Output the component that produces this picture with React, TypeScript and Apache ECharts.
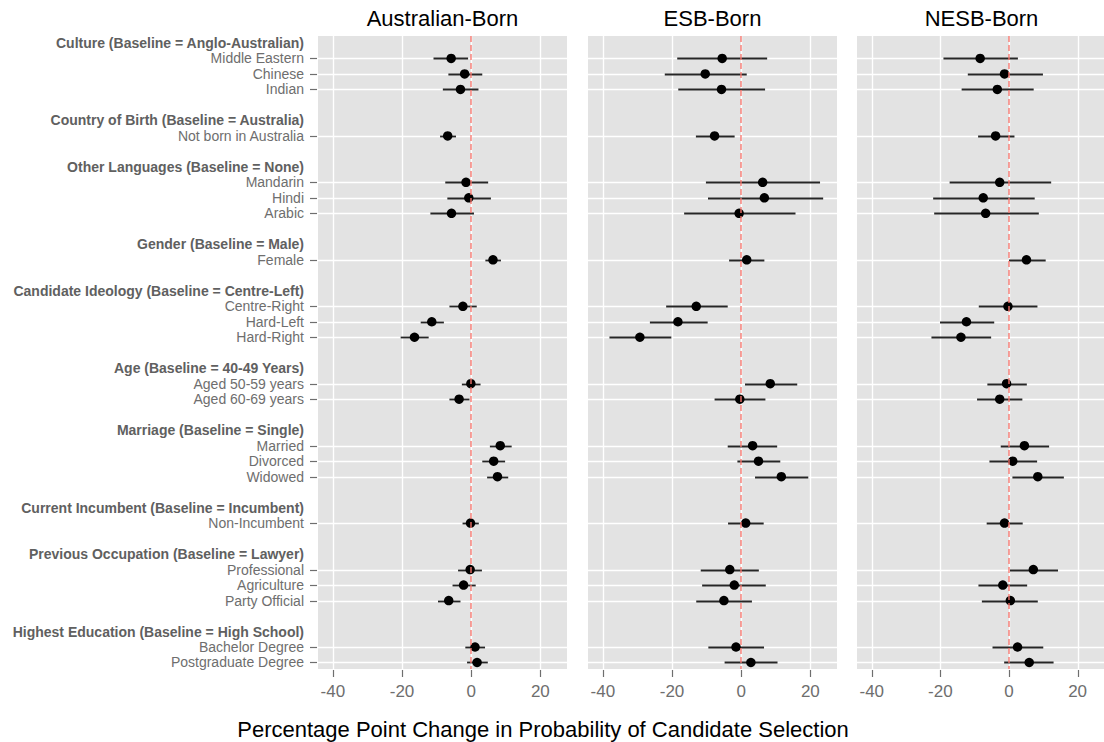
import React, { useEffect, useRef } from "react";
import * as echarts from "echarts";

const panelTitles = ["Australian-Born", "ESB-Born", "NESB-Born"];
const xTitle = "Percentage Point Change in Probability of Candidate Selection";
const xTicks = [-40, -20, 0, 20];

const headers = [
  "Culture (Baseline = Anglo-Australian)",
  "Country of Birth (Baseline = Australia)",
  "Other Languages (Baseline = None)",
  "Gender (Baseline = Male)",
  "Candidate Ideology (Baseline = Centre-Left)",
  "Age (Baseline = 40-49 Years)",
  "Marriage (Baseline = Single)",
  "Current Incumbent (Baseline = Incumbent)",
  "Previous Occupation (Baseline = Lawyer)",
  "Highest Education (Baseline = High School)",
];

const groupItems = [
  ["Middle Eastern", "Chinese", "Indian"],
  ["Not born in Australia"],
  ["Mandarin", "Hindi", "Arabic"],
  ["Female"],
  ["Centre-Right", "Hard-Left", "Hard-Right"],
  ["Aged 50-59 years", "Aged 60-69 years"],
  ["Married", "Divorced", "Widowed"],
  ["Non-Incumbent"],
  ["Professional", "Agriculture", "Party Official"],
  ["Bachelor Degree", "Postgraduate Degree"],
];

// Australian-Born
const ausEst = [-5.8, -1.9, -3.1, -6.8, -1.5, -0.7, -5.7, 6.3, -2.4, -11.4, -16.4, -0.1, -3.5, 8.4, 6.5, 7.6, -0.2, -0.3, -2.2, -6.5, 1.1, 1.7];
const ausLo = [-10.9, -6.6, -8.2, -9.0, -7.5, -6.9, -11.8, 4.1, -6.3, -14.6, -20.4, -2.7, -6.3, 5.4, 3.2, 4.6, -2.5, -3.8, -5.4, -9.6, -1.7, -1.2];
const ausHi = [-0.9, 3.2, 2.1, -4.4, 4.9, 5.7, 0.8, 8.6, 1.6, -7.9, -12.3, 2.7, -0.5, 11.7, 9.8, 10.7, 2.2, 3.1, 1.3, -3.1, 4.0, 4.8];

// ESB-Born
const esbEst = [-5.5, -10.4, -5.7, -7.7, 6.2, 6.7, -0.6, 1.6, -13.0, -18.3, -29.3, 8.4, -0.4, 3.3, 5.0, 11.6, 1.3, -3.3, -2.0, -5.0, -1.5, 2.8];
const esbLo = [-18.5, -22.1, -18.2, -13.1, -10.2, -9.6, -16.5, -3.5, -21.7, -26.4, -38.1, 1.1, -7.7, -3.9, -1.1, 4.0, -3.8, -11.7, -11.3, -13.0, -9.5, -4.8];
const esbHi = [7.5, 1.6, 6.9, -1.9, 22.8, 23.7, 15.7, 6.7, -3.9, -9.7, -20.2, 16.2, 7.0, 10.4, 11.3, 19.4, 6.5, 5.1, 7.1, 3.1, 6.6, 10.5];

// NESB-Born
const nesbEst = [-8.4, -1.3, -3.4, -3.9, -2.7, -7.5, -6.8, 5.1, -0.3, -12.4, -14.0, -0.7, -2.7, 4.5, 1.1, 8.4, -1.3, 7.1, -1.8, 0.4, 2.5, 5.9];
const nesbLo = [-19.1, -12.0, -13.8, -9.0, -17.3, -22.1, -21.8, 0.0, -8.8, -20.1, -22.6, -6.3, -9.3, -2.4, -5.7, 1.0, -6.5, 0.3, -8.9, -7.9, -4.8, -1.4];
const nesbHi = [2.6, 9.9, 7.2, 1.6, 12.3, 7.5, 8.7, 10.7, 8.3, -4.3, -5.2, 5.2, 3.9, 11.7, 8.2, 16.0, 4.0, 14.3, 5.3, 8.4, 10.0, 13.0];

const panelEst = [ausEst, esbEst, nesbEst];
const panelLo = [ausLo, esbLo, nesbLo];
const panelHi = [ausHi, esbHi, nesbHi];

export default function App() {
  const ref = useRef<HTMLDivElement>(null);

  useEffect(() => {
    if (!ref.current) return;
    const chart = echarts.init(ref.current, null, { renderer: "svg" });

    const rowLabel: Record<number, string> = {};
    const headerRows: number[] = [];
    const itemRows: number[] = [];
    let r = 0;
    headers.forEach((h, g) => {
      rowLabel[r] = "{h|" + h + "}";
      headerRows.push(r);
      r++;
      groupItems[g].forEach((it) => {
        rowLabel[r] = "{n|" + it + "}";
        itemRows.push(r);
        r++;
      });
      r++;
    });
    const labelRows = [...headerRows, ...itemRows].sort((a, b) => a - b);

    const font = "Liberation Sans, Arial, Helvetica, sans-serif";
    const lefts = [318, 588, 857];
    const gridW = 249;
    const top = 36;
    const height = 633;
    const yMin = -0.45;
    const yMax = 40.42;
    const xMin = -44.3;
    const xMax = 27.7;
    const tickLen = 7;
    const tickColor = "#6e6e6e";
    const snap = (v: number) => Math.round(v) + 0.5;

    const grids = lefts.map((l) => ({
      left: l,
      top,
      width: gridW,
      height,
      show: true,
      backgroundColor: "#E3E3E3",
      borderWidth: 0,
    }));

    const xAxes = lefts.map((_, i) => ({
      type: "value",
      gridIndex: i,
      min: xMin,
      max: xMax,
      position: "bottom",
      axisLine: { show: false, onZero: false },
      axisTick: { show: false },
      axisLabel: {
        show: true,
        customValues: xTicks,
        margin: 14,
        fontSize: 17,
        color: "#6e6e6e",
        fontFamily: font,
      },
      splitLine: { show: false },
    }));

    const yAxes = lefts.map((_, i) => ({
      type: "value",
      gridIndex: i,
      inverse: true,
      min: yMin,
      max: yMax,
      position: "left",
      axisLine: { show: false, onZero: false },
      axisTick: { show: false },
      axisLabel: {
        show: i === 0,
        customValues: labelRows,
        margin: 14,
        formatter: (v: number) => rowLabel[Math.round(v)] || "",
        rich: {
          h: { fontSize: 14, fontWeight: "bold", color: "#606060", fontFamily: font },
          n: { fontSize: 14, color: "#6e6e6e", fontFamily: font },
        },
      },
      splitLine: { show: false },
    }));

    const series: any[] = [];
    lefts.forEach((_, i) => {
      series.push({
        type: "custom",
        xAxisIndex: i,
        yAxisIndex: i,
        z: 1,
        silent: true,
        clip: false,
        data: itemRows.map((row) => [xMin, xMax, row]),
        encode: { x: [0, 1], y: 2 },
        renderItem: (params: any, api: any) => {
          const a = api.coord([api.value(0), api.value(2)]);
          const b = api.coord([api.value(1), api.value(2)]);
          const y = snap(a[1]);
          const children: any[] = [
            {
              type: "line",
              shape: { x1: a[0], y1: y, x2: b[0], y2: y },
              style: { stroke: "#ffffff", lineWidth: 1.4 },
            },
          ];
          if (i === 0) {
            children.push({
              type: "line",
              shape: { x1: a[0] - tickLen - 1, y1: y, x2: a[0] - 1, y2: y },
              style: { stroke: tickColor, lineWidth: 1.2 },
            });
          }
          return { type: "group", children };
        },
      });
      series.push({
        type: "custom",
        xAxisIndex: i,
        yAxisIndex: i,
        z: 1,
        silent: true,
        clip: false,
        data: xTicks.map((t) => [t, yMin, yMax]),
        encode: { x: 0, y: [1, 2] },
        renderItem: (params: any, api: any) => {
          const a = api.coord([api.value(0), api.value(1)]);
          const b = api.coord([api.value(0), api.value(2)]);
          const yb = Math.max(a[1], b[1]);
          const x = snap(a[0]);
          return {
            type: "group",
            children: [
              {
                type: "line",
                shape: { x1: x, y1: a[1], x2: x, y2: b[1] },
                style: { stroke: "#ffffff", lineWidth: 1.4 },
              },
              {
                type: "line",
                shape: { x1: x, y1: yb + 1, x2: x, y2: yb + 1 + tickLen },
                style: { stroke: tickColor, lineWidth: 1.2 },
              },
            ],
          };
        },
      });
      const barData = itemRows.map((row, k) => [panelLo[i][k], panelHi[i][k], row]);
      const ptData = itemRows.map((row, k) => [panelEst[i][k], row]);
      series.push({
        type: "custom",
        xAxisIndex: i,
        yAxisIndex: i,
        z: 2,
        data: barData,
        encode: { x: [0, 1], y: 2 },
        renderItem: (params: any, api: any) => {
          const a = api.coord([api.value(0), api.value(2)]);
          const b = api.coord([api.value(1), api.value(2)]);
          const y = snap(a[1]);
          return {
            type: "line",
            shape: { x1: a[0], y1: y, x2: b[0], y2: y },
            style: { stroke: "#262626", lineWidth: 1.8 },
          };
        },
        markLine: {
          silent: true,
          symbol: "none",
          label: { show: false },
          lineStyle: { color: "rgba(248,118,109,0.75)", type: [6, 3], width: 1.8 },
          data: [{ xAxis: 0 }],
        },
      });
      series.push({
        type: "scatter",
        xAxisIndex: i,
        yAxisIndex: i,
        z: 3,
        symbol: "circle",
        symbolSize: 9.5,
        itemStyle: { color: "#000000", opacity: 1 },
        data: ptData,
      });
    });

    const graphics: any[] = panelTitles.map((t, i) => ({
      type: "text",
      x: lefts[i] + gridW / 2,
      y: 18,
      style: {
        text: t,
        fill: "#000000",
        font: "22px " + font,
        textAlign: "center",
        textVerticalAlign: "middle",
      },
    }));
    graphics.push({
      type: "text",
      x: 543,
      y: 729,
      style: {
        text: xTitle,
        fill: "#000000",
        font: "22px " + font,
        textAlign: "center",
        textVerticalAlign: "middle",
      },
    });

    chart.setOption({
      animation: false,
      backgroundColor: "#ffffff",
      grid: grids,
      xAxis: xAxes,
      yAxis: yAxes,
      series,
      graphic: graphics,
    });

    return () => chart.dispose();
  }, []);

  return (
    <div
      ref={ref}
      style={{ position: "absolute", left: 0, top: 0, width: 1104, height: 742 }}
    />
  );
}
